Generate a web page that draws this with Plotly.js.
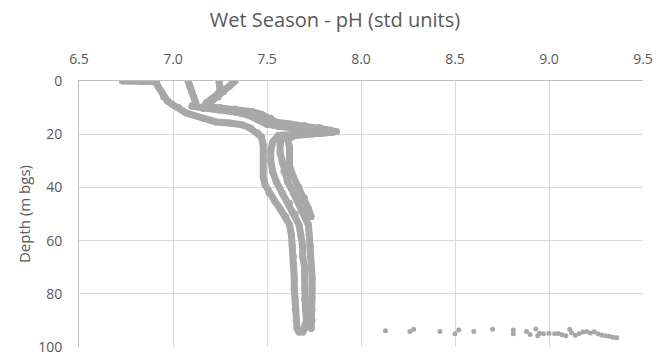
<!DOCTYPE html>
<html>
<head>
<meta charset="utf-8">
<script src="https://cdn.plot.ly/plotly-3.0.1.min.js"></script>
<style>html,body{margin:0;padding:0;background:#fff;}#chart{width:670px;height:358px;}</style>
</head>
<body>
<div id="chart"></div>
<script>
// Profile A (leftmost start at surface)
const depthA = [0,0,0,0,0.3,2,4,6,7.5,9,10,12,14,15.4,15.8,16.5,17.7,19.5,21,24,27,30,33,36,39,42,45,48,51,54,58,62,66,70,74,78,82,86,90,93,94.5];
const phA = [6.73,6.78,6.83,6.88,6.91,6.92,6.94,6.95,6.97,7.00,7.03,7.07,7.16,7.23,7.30,7.37,7.41,7.45,7.47,7.48,7.48,7.48,7.48,7.48,7.49,7.51,7.54,7.57,7.60,7.62,7.63,7.635,7.64,7.64,7.645,7.645,7.65,7.65,7.655,7.66,7.67];
// Profile B
const depthB = [0,2,4,6,8,9.5,10.3,10.8,11.5,12.8,14.5,16.3,17,17.6,18.3,19,19.6,20,20.5,23,26,30,34,38,42,46,50,54,58,62,66,70,74,78,82,86,90,93,94.5];
const phB = [7.08,7.09,7.10,7.11,7.12,7.10,7.16,7.24,7.32,7.40,7.45,7.50,7.58,7.68,7.78,7.87,7.78,7.66,7.56,7.53,7.52,7.52,7.53,7.55,7.58,7.62,7.65,7.67,7.68,7.69,7.69,7.70,7.70,7.70,7.70,7.705,7.71,7.70,7.69];
// Profile C1
const depthC1 = [0,2,4,6,8,10,10.5,11.2,12,13,14.5,16,17,17.6,18.2,18.8,19.3,19.8,20.5,22,25,28,32,36,40,44,48,51];
const phC1 = [7.245,7.25,7.25,7.22,7.18,7.16,7.22,7.30,7.38,7.44,7.47,7.50,7.56,7.64,7.72,7.80,7.85,7.75,7.65,7.61,7.62,7.62,7.62,7.64,7.67,7.70,7.72,7.735];
// Profile C2
const depthC2 = [0,2,4,6,8,9.5,10,10.5,11.5,12.5,14,15.5,16.2,16.8,17.5,18.5,19.5,20,21,24,27,30,34,38,42,46,50,54,58,62,66,70,74,78,82,86,90,93];
const phC2 = [7.33,7.30,7.27,7.24,7.20,7.17,7.25,7.33,7.42,7.47,7.52,7.55,7.62,7.70,7.78,7.84,7.74,7.64,7.58,7.57,7.57,7.58,7.59,7.61,7.64,7.67,7.70,7.72,7.725,7.73,7.73,7.735,7.74,7.74,7.74,7.74,7.74,7.735];
// Bottom scattered readings
const phBot = [8.13,8.26,8.28,8.42,8.50,8.52,8.60,8.70,8.81,8.81,8.88,8.90,8.93,8.94,8.95,8.97,9.00,9.03,9.05,9.07,9.09,9.11,9.12,9.14,9.16,9.18,9.20,9.22,9.24,9.26,9.28,9.30,9.32,9.34,9.36];
const depthBot = [93.9,94.2,93.3,94.2,95.0,93.6,94.2,93.3,93.6,95.0,94.2,95.3,93.2,95.8,94.8,95.0,94.8,95.0,94.9,95.4,95.8,93.3,94.6,95.6,95.0,94.4,94.2,94.7,94.3,95.0,95.5,95.8,96.0,96.3,96.5];

const xTicks = [6.5,7.0,7.5,8.0,8.5,9.0,9.5];
const xTickText = ['6.5','7.0','7.5','8.0','8.5','9.0','9.5'];
const yTicks = [0,20,40,60,80,100];

const gray = '#a9a7a8';
function profile(x, y) {
  return {x: x, y: y, type: 'scatter', mode: 'lines+markers',
    line: {color: gray, width: 7}, marker: {color: gray, size: 7}, showlegend: false, hoverinfo: 'skip'};
}
const traces = [
  profile(phA, depthA), profile(phB, depthB), profile(phC1, depthC1), profile(phC2, depthC2),
  {x: phBot, y: depthBot, type: 'scatter', mode: 'markers', marker: {color: gray, size: 5}, showlegend: false, hoverinfo: 'skip'}
];

const layout = {
  width: 670, height: 358,
  margin: {l: 79, r: 27, t: 81, b: 11},
  paper_bgcolor: '#fff', plot_bgcolor: '#fff',
  font: {family: 'Open Sans, sans-serif', color: '#595959'},
  title: {text: 'Wet Season - pH (std units)', font: {size: 20, color: '#595959'},
    x: 0.5, xanchor: 'center', y: 0.943, yref: 'container', yanchor: 'middle'},
  xaxis: {side: 'top', range: [6.5, 9.5], tickvals: xTicks, ticktext: xTickText,
    showgrid: true, gridcolor: '#d9d9d9', gridwidth: 1, zeroline: false,
    showline: true, linecolor: '#bfbfbf', linewidth: 1, ticks: '', ticklabelstandoff: 10,
    tickfont: {size: 14, color: '#595959'}, fixedrange: true},
  yaxis: {range: [100, 0], tickvals: yTicks, showgrid: true, gridcolor: '#d9d9d9', gridwidth: 1,
    zeroline: false, showline: true, linecolor: '#bfbfbf', linewidth: 1, ticks: '', ticklabelstandoff: 13,
    tickfont: {size: 14, color: '#595959'},
    title: {text: 'Depth (m bgs)', font: {size: 15, color: '#595959'}, standoff: 3}, fixedrange: true}
};
Plotly.newPlot('chart', traces, layout, {staticPlot: true, displayModeBar: false});
</script>
</body>
</html>
